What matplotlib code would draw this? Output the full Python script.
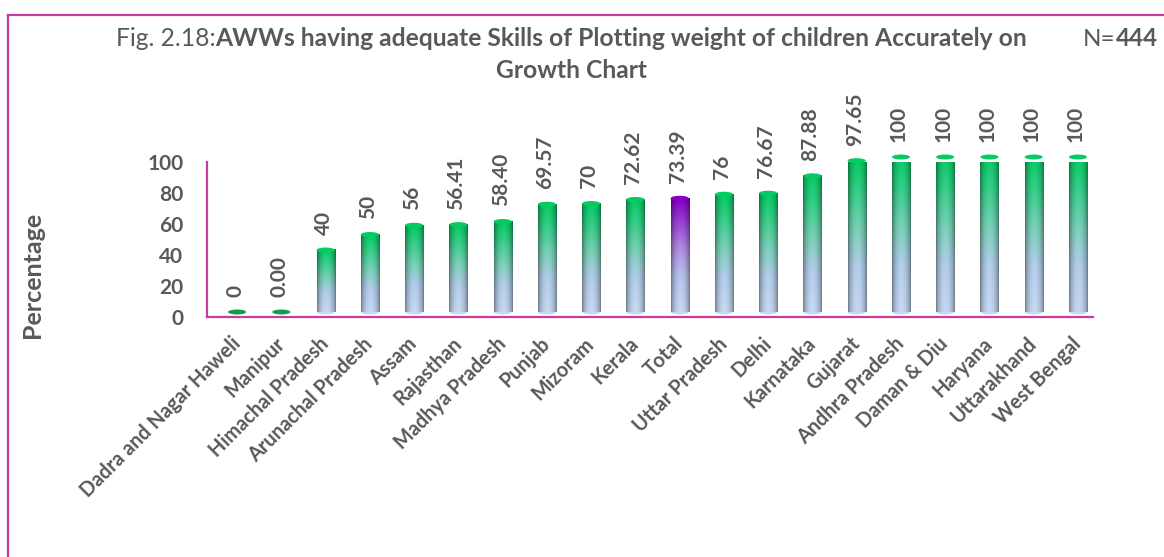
import numpy as np
import matplotlib.pyplot as plt
import matplotlib.transforms as mtransforms
from matplotlib.patches import Ellipse
from matplotlib.lines import Line2D
from matplotlib.colors import LinearSegmentedColormap

plt.rcParams['font.family'] = ['Lato', 'DejaVu Sans']

# State-wise share of AWWs plotting child weight correctly (%)
states = ['Dadra and Nagar Haweli', 'Manipur', 'Himachal Pradesh', 'Arunachal Pradesh',
          'Assam', 'Rajasthan', 'Madhya Pradesh', 'Punjab', 'Mizoram', 'Kerala', 'Total',
          'Uttar Pradesh', 'Delhi', 'Karnataka', 'Gujarat', 'Andhra Pradesh',
          'Daman & Diu', 'Haryana', 'Uttarakhand', 'West Bengal']
value_labels = ['0', '0.00', '40', '50', '56', '56.41', '58.40', '69.57', '70', '72.62',
                '73.39', '76', '76.67', '87.88', '97.65', '100', '100', '100', '100', '100']
values = [float(s) for s in value_labels]
highlight = 'Total'

GRAY = '#595959'
FRAME = '#C83C9E'

green_cmap = LinearSegmentedColormap.from_list(
    'grn', [(0.0, '#C6D9F2'), (0.3, '#B3CDEB'), (0.55, '#78D2B8'), (0.8, '#34CF88'), (1.0, '#05CC62')])
purple_cmap = LinearSegmentedColormap.from_list(
    'prp', [(0.0, '#C6D9F2'), (0.3, '#B9C6EE'), (0.55, '#B28FE2'), (0.8, '#9A3FD6'), (1.0, '#8600C8')])


def cylinder_image(cmap, ny=80, nx=40):
    t = np.linspace(0, 1, ny)[:, None]
    x = np.linspace(0, 1, nx)[None, :]
    shade = 0.55 + 0.45 * np.sin(np.pi * x) ** 0.6
    rgb = cmap(np.repeat(t, nx, axis=1))[..., :3]
    return np.clip(rgb * shade[..., None], 0, 1)


fig = plt.figure(figsize=(11.64, 5.57), dpi=100)
ax = fig.add_axes([207 / 1164, 1 - 317 / 557, (1093 - 207) / 1164, (317 - 162) / 557])

# bars sit slightly above the floor line, like the 3-D cylinder chart
lift = mtransforms.offset_copy(ax.transData, fig=fig, x=0, y=5, units='dots')
w = 0.41
cap_h = 3.2

for i, (name, v, lbl) in enumerate(zip(states, values, value_labels)):
    cmap = purple_cmap if name == highlight else green_cmap
    top_col = '#119C50' if v == 0 else cmap(1.0)
    if v > 0:
        ax.add_patch(Ellipse((i, 0), w, cap_h, facecolor=cmap(0.0), edgecolor='none',
                             transform=lift, zorder=2))
        ax.imshow(cylinder_image(cmap), extent=(i - w / 2, i + w / 2, 0, v),
                  origin='lower', aspect='auto', transform=lift, zorder=3,
                  interpolation='bilinear')
    ax.add_patch(Ellipse((i, v), w, cap_h, facecolor=top_col, edgecolor='none',
                         transform=lift, zorder=4, clip_on=False))
    ax.annotate(lbl, (i, v), xytext=(-2, 20), textcoords='offset pixels',
                rotation=90, ha='center', va='bottom', fontsize=15,
                fontweight='bold', color=GRAY, annotation_clip=False)

ax.set_xlim(-0.68, len(states) - 0.66)
ax.set_ylim(0, 100)

for s in ['top', 'right']:
    ax.spines[s].set_visible(False)
for s in ['left', 'bottom']:
    ax.spines[s].set_color(FRAME)
    ax.spines[s].set_linewidth(1.6)

ax.set_yticks(range(0, 101, 20))
ax.tick_params(axis='y', length=0, pad=17, labelsize=15, labelcolor=GRAY)
ax.tick_params(axis='x', length=0, pad=12, labelsize=14.3, labelcolor=GRAY)
ax.set_xticks(range(len(states)))
ax.set_xticklabels(states, rotation=45, ha='right', va='top', rotation_mode='anchor',
                   fontweight='bold')
shift_left = mtransforms.ScaledTranslation(-7 / 100, 0, fig.dpi_scale_trans)
for t in ax.get_xticklabels():
    t.set_transform(t.get_transform() + shift_left)
for t in ax.get_yticklabels():
    t.set_fontweight('bold')

fig.text(33 / 1164, 1 - 275 / 557, 'Percentage', rotation=90, ha='center', va='center',
         fontsize=18, fontweight='bold', color=GRAY)

# title: regular prefix followed by bold text
t1 = fig.text(116 / 1164, 1 - 39 / 557, 'Fig. 2.18:', ha='left', va='center',
              fontsize=17.7, color=GRAY)
ax.annotate('AWWs having adequate Skills of Plotting weight of children Accurately on',
            xy=(1, 0), xycoords=t1, ha='left', va='bottom', fontsize=17.7,
            fontweight='bold', color=GRAY, annotation_clip=False)
fig.text(571 / 1164, 1 - 71 / 557, 'Growth Chart', ha='center', va='center',
         fontsize=17.7, fontweight='bold', color=GRAY)

n1 = fig.text(1083 / 1164, 1 - 39 / 557, 'N=', ha='left', va='center',
              fontsize=17.5, color=GRAY)
ax.annotate('444', xy=(1, 0), xycoords=n1, ha='left', va='bottom', fontsize=17.5,
            fontweight='bold', color=GRAY, annotation_clip=False)

# outer frame: left and top edges
fig.add_artist(Line2D([8 / 1164, 8 / 1164], [0, 1 - 15 / 557], color=FRAME, lw=1.6))
fig.add_artist(Line2D([8 / 1164, 1], [1 - 15 / 557, 1 - 15 / 557], color=FRAME, lw=1.6))

fig.savefig('out.png', dpi=100)
